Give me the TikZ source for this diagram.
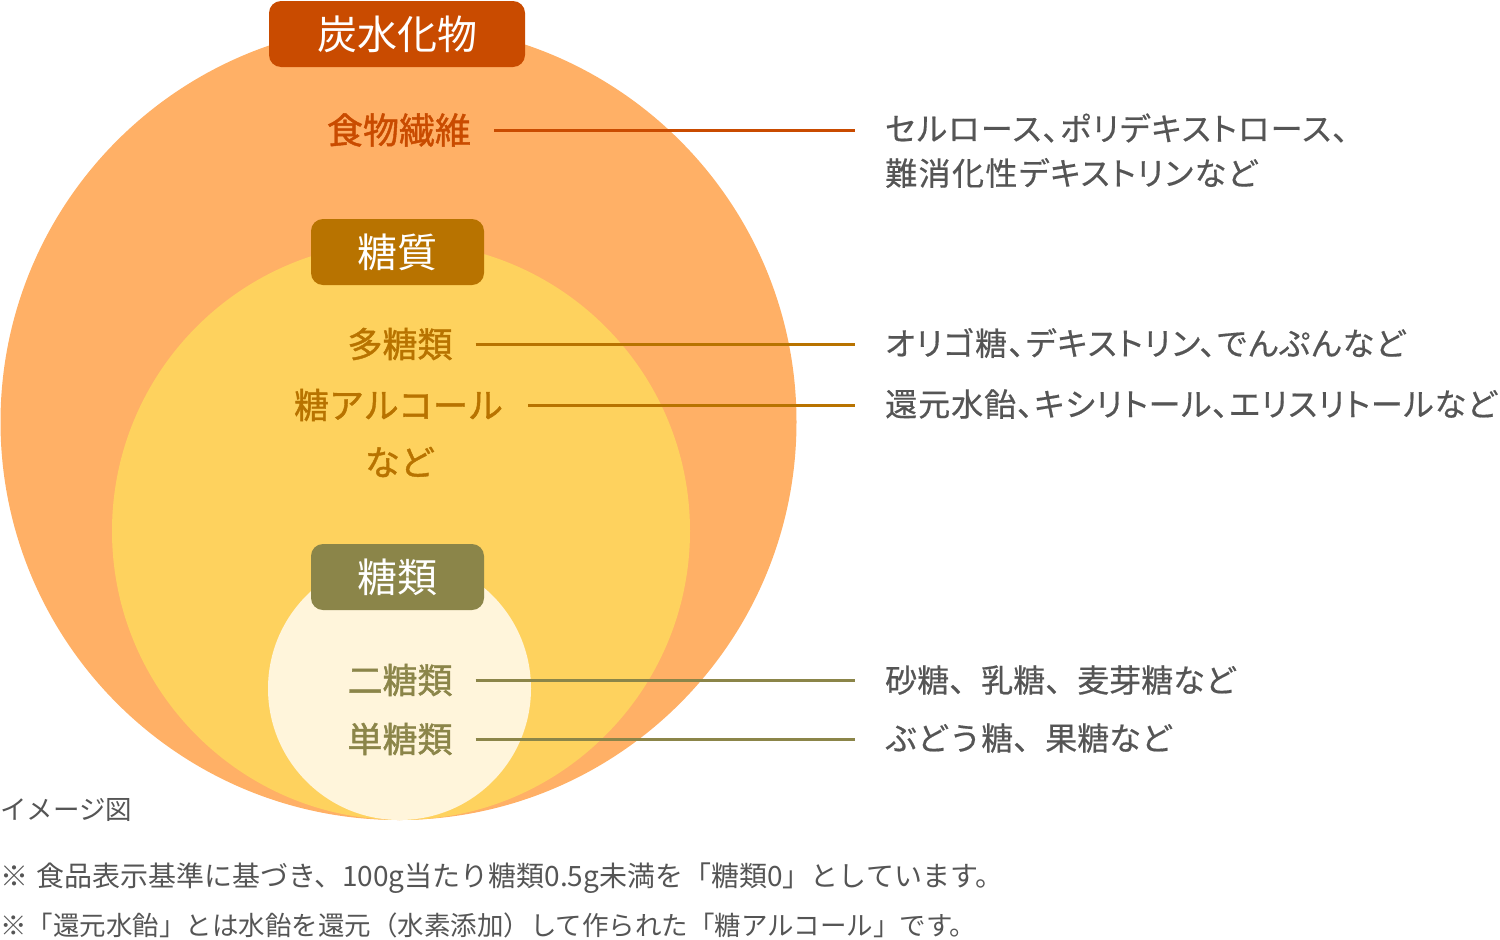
\documentclass[tikz,border=0pt]{standalone}
\usepackage{fontspec}
\newfontfamily\jp{Noto Sans CJK JP}
\newfontfamily\jpn{Noto Sans CJK JP}[FakeBold=0.5]
\newfontfamily\jpp{Noto Sans CJK JP}[RawFeature=+palt, LetterSpace=4.5, FakeBold=0.5]
\newfontfamily\jpq{Noto Sans CJK JP}[RawFeature=+palt, LetterSpace=3.2, FakeBold=0.5]
\newfontfamily\jpb{Noto Sans CJK JP}[FakeBold=1.2]
\definecolor{outerc}{HTML}{FFB066}
\definecolor{midc}{HTML}{FED25E}
\definecolor{innc}{HTML}{FFF5DB}
\definecolor{carbc}{HTML}{C94B00}
\definecolor{sugc}{HTML}{B87300}
\definecolor{saccc}{HTML}{8B8549}
\definecolor{txtc}{HTML}{555555}
\tikzset{
  ttl/.style={rounded corners=12pt, text=white, inner sep=0pt, minimum height=66pt,
    font={\jp\fontsize{40}{44}\selectfont}},
  lab/.style={inner sep=0pt, font={\jpb\fontsize{35}{40}\selectfont}},
  ex/.style={anchor=west, inner sep=0pt, text=txtc, font={\jpp\fontsize{32}{38}\selectfont}},
  exk/.style={ex, font={\jpn\fontsize{32}{38}\selectfont}},
  note/.style={anchor=west, inner sep=0pt, text=txtc, font={\jp\fontsize{26.5}{30}\selectfont}},
  conn/.style={line width=3pt}
}
\begin{document}
\begin{tikzpicture}[x=1pt,y=-1pt]
\useasboundingbox (0,0) rectangle (1500,940);
% circles
\fill[outerc] (398.5,422) circle[radius=398pt];
\fill[midc] (401,531) circle[radius=289pt];
\fill[innc] (399.5,688.5) circle[radius=131.5pt];
% titles
\node[ttl, fill=carbc, minimum width=256pt] (carb) at (397,34) {炭水化物};
\node[ttl, fill=sugc, minimum width=173pt] (sugq) at (397.5,252) {糖質};
\node[ttl, fill=saccc, minimum width=173pt] (sugr) at (397.5,577) {糖類};
% labels
\node[lab, text=carbc, font={\jpb\fontsize{36}{40}\selectfont}] (fiber) at (399,130) {食物繊維};
\node[lab, text=sugc] (poly) at (400,344) {多糖類};
\node[lab, text=sugc] (alc) at (398.5,405) {糖アルコール};
\node[lab, text=sugc] (etc) at (400,462) {など};
\node[lab, text=saccc] (di) at (400,680) {二糖類};
\node[lab, text=saccc] (mono) at (400,739) {単糖類};
% examples
\node[ex] (exf1) at (885,128) {セルロース、ポリデキストロース、};
\node[ex] (exf2) at (885,173) {難消化性デキストリンなど};
\node[ex] (exp) at (885,343) {オリゴ糖、デキストリン、でんぷんなど};
\node[ex, font={\jpq\fontsize{32}{38}\selectfont}] (exa) at (885,404) {還元水飴、キシリトール、エリスリトールなど};
\node[exk] (exd) at (885,680) {砂糖、乳糖、麦芽糖など};
\node[exk] (exm) at (885,738) {ぶどう糖、果糖など};
% connectors
\draw[conn, carbc] ([xshift=23pt]fiber.east) -- ([xshift=-30pt]exf1.west |- fiber.east);
\draw[conn, sugc] ([xshift=23pt]poly.east) -- ([xshift=-30pt]exp.west |- poly.east);
\draw[conn, sugc] ([xshift=25pt]alc.east) -- ([xshift=-30pt]exa.west |- alc.east);
\draw[conn, saccc] ([xshift=23pt]di.east) -- ([xshift=-30pt]exd.west |- di.east);
\draw[conn, saccc] ([xshift=23pt]mono.east) -- ([xshift=-30pt]exm.west |- mono.east);
% notes
\node[note] (img) at (0,810) {イメージ図};
\node[note, font={\jp\fontsize{28}{30}\selectfont}] (n1) at (0,878) {※\hspace{8pt}食品表示基準に基づき、100g当たり糖類0.5g未満を「糖類0」としています。};
\node[note] (n2) at (0,925) {※「還元水飴」とは水飴を還元（水素添加）して作られた「糖アルコール」です。};
\end{tikzpicture}
\end{document}
